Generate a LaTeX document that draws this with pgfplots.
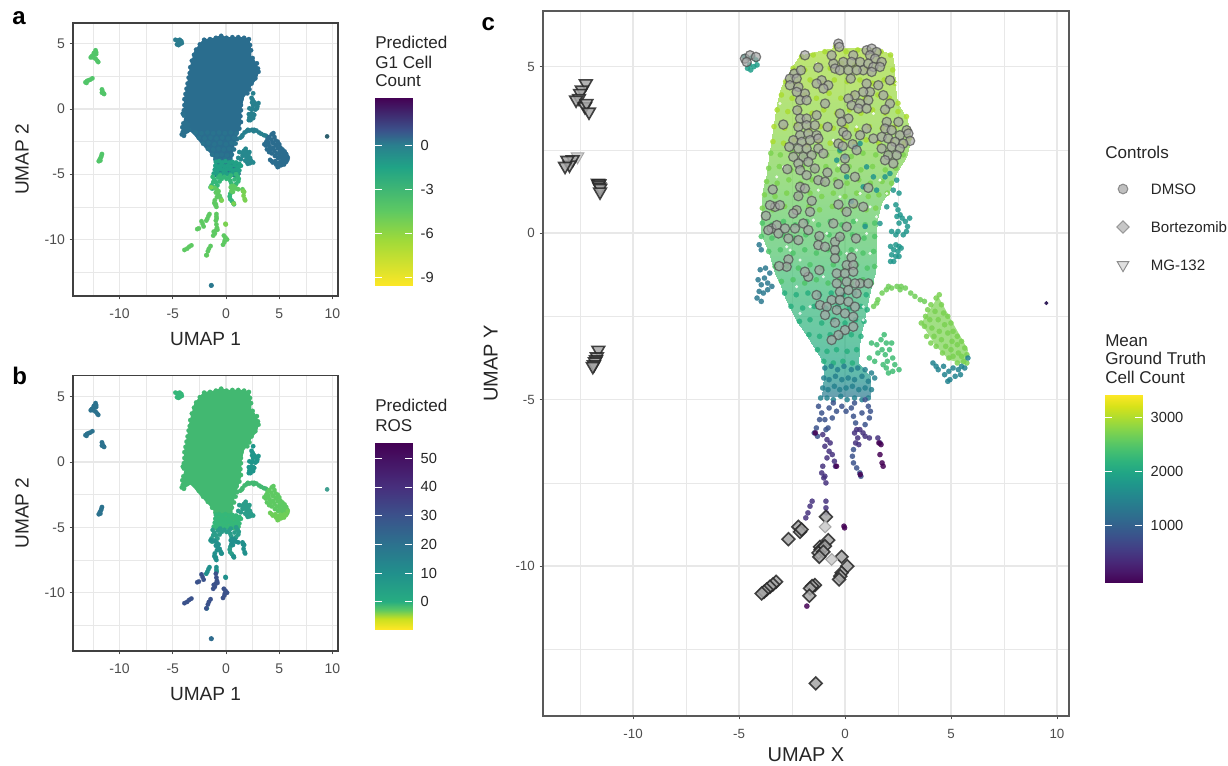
\documentclass[border=0pt]{standalone}
\usepackage{pgfplots}
\usepackage{pgfplotstable}
\usepackage{fontspec}
\setmainfont{Liberation Sans}
\pgfplotsset{compat=1.18}
\newcommand\fs[1]{\fontsize{#1}{#1}\selectfont}
\definecolor{tickc}{HTML}{4D4D4D}
\definecolor{gridc}{HTML}{E8E8E8}
\pgfplotstableread[row sep=\\]{x y\\
-2.05 5.3\\-1.5 5.35\\-0.95 5.45\\-0.45 5.6\\0.05 5.45\\0.6 5.5\\1.15 5.5\\1.7 5.45\\2.15 5.35\\
-2.45 4.95\\-1.9 4.9\\-1.3 5.05\\-0.7 4.95\\-0.15 5.1\\0.45 5.05\\1.0 4.95\\1.6 5.1\\2.25 4.9\\
-2.8 4.55\\-2.25 4.5\\-1.65 4.6\\-1.05 4.5\\-0.5 4.6\\0.1 4.55\\0.7 4.6\\1.3 4.5\\1.85 4.6\\2.35 4.5\\
-3.0 4.15\\-2.5 4.05\\-1.9 4.15\\-1.35 4.05\\-0.75 4.2\\-0.2 4.05\\0.4 4.15\\0.95 4.05\\1.55 4.15\\2.1 4.05\\2.5 3.9\\
-3.2 3.7\\-2.7 3.65\\-2.15 3.7\\-1.55 3.6\\-1.0 3.7\\-0.4 3.6\\0.2 3.7\\0.75 3.6\\1.3 3.7\\1.9 3.6\\2.5 3.65\\2.9 3.5\\
-3.35 3.2\\-2.85 3.15\\-2.3 3.25\\-1.7 3.1\\-1.15 3.2\\-0.55 3.15\\0.05 3.2\\0.55 3.1\\1.15 3.2\\1.75 3.15\\2.35 3.2\\3.0 3.1\\
-3.4 2.75\\-2.9 2.7\\-2.4 2.8\\-1.8 2.65\\-1.25 2.75\\-0.7 2.7\\-0.1 2.8\\0.45 2.7\\1.0 2.8\\1.6 2.7\\2.2 2.75\\2.8 2.7\\3.05 2.85\\
}\Rone
\pgfplotstableread[row sep=\\]{x y\\
-3.5 2.4\\-3.05 2.35\\-2.5 2.45\\-1.95 2.3\\-1.4 2.4\\-0.85 2.35\\-0.25 2.45\\0.3 2.3\\0.85 2.4\\1.45 2.35\\2.05 2.4\\2.75 2.35\\
-3.6 1.95\\-3.1 2.0\\-2.55 1.9\\-2.0 2.0\\-1.45 1.9\\-0.9 2.0\\-0.35 1.9\\0.2 2.0\\0.75 1.9\\1.3 2.0\\1.9 1.9\\2.4 1.95\\
-3.7 1.55\\-3.2 1.5\\-2.65 1.6\\-2.1 1.5\\-1.55 1.6\\-1.0 1.5\\-0.45 1.6\\0.1 1.5\\0.65 1.6\\1.2 1.5\\1.75 1.55\\2.2 1.5\\
-3.8 1.15\\-3.3 1.1\\-2.75 1.2\\-2.2 1.1\\-1.65 1.2\\-1.1 1.1\\-0.55 1.2\\0 1.1\\0.55 1.2\\1.1 1.1\\1.6 1.15\\2.0 1.2\\
-3.9 0.75\\-3.4 0.7\\-2.85 0.8\\-2.3 0.7\\-1.7 0.8\\-1.2 0.7\\-0.6 0.8\\-0.1 0.7\\0.45 0.8\\1.0 0.7\\1.45 0.75\\
}\Rtwo
\pgfplotstableread[row sep=\\]{x y\\
-3.9 0.3\\-3.45 0.25\\-2.9 0.35\\-2.35 0.25\\-1.8 0.35\\-1.25 0.25\\-0.7 0.35\\-0.15 0.25\\0.4 0.35\\0.95 0.25\\1.4 0.3\\
-3.95 -0.1\\-3.45 -0.15\\-2.95 -0.05\\-2.4 -0.15\\-1.85 -0.05\\-1.3 -0.15\\-0.75 -0.05\\-0.2 -0.15\\0.35 -0.05\\0.9 -0.15\\1.4 -0.1\\
-3.6 -0.55\\-3.05 -0.5\\-2.45 -0.6\\-1.9 -0.5\\-1.35 -0.6\\-0.8 -0.5\\-0.25 -0.6\\0.3 -0.5\\0.85 -0.6\\1.35 -0.55\\
-3.3 -1.0\\-2.75 -1.0\\-2.2 -1.05\\-1.65 -0.95\\-1.1 -1.05\\-0.55 -0.95\\0 -1.05\\0.55 -0.95\\1.05 -1.05\\1.4 -1.0\\
-3.0 -1.45\\-2.45 -1.4\\-1.9 -1.5\\-1.35 -1.4\\-0.8 -1.5\\-0.25 -1.4\\0.3 -1.5\\0.85 -1.4\\1.25 -1.5\\
}\Rthree
\pgfplotstableread[row sep=\\]{x y\\
-2.85 -1.8\\-2.3 -1.85\\-1.75 -1.8\\-1.2 -1.85\\-0.65 -1.8\\-0.1 -1.85\\0.45 -1.8\\1.0 -1.85\\
-2.55 -2.2\\-2.0 -2.25\\-1.45 -2.2\\-0.9 -2.25\\-0.35 -2.2\\0.2 -2.25\\0.75 -2.2\\1.05 -2.3\\
-2.15 -2.65\\-1.65 -2.6\\-1.1 -2.7\\-0.55 -2.6\\0 -2.7\\0.5 -2.6\\0.9 -2.65\\
-1.7 -3.05\\-1.2 -3.1\\-0.7 -3.05\\-0.2 -3.1\\0.3 -3.05\\0.75 -3.1\\
-1.3 -3.5\\-0.85 -3.55\\-0.4 -3.5\\0.1 -3.55\\0.55 -3.5\\
-1.0 -3.85\\-0.55 -3.9\\-0.1 -3.85\\0.35 -3.9\\
}\Rfour
\pgfplotstableread[row sep=\\]{x y\\
-4.15 -1.95\\-4.05 -1.75\\-3.95 -1.55\\-3.85 -1.8\\-3.95 -2.05\\-4.1 -1.4\\-3.8 -1.35\\-3.65 -1.5\\-3.55 -1.2\\-3.75 -1.05\\-4.0 -1.1\\-3.95 -0.5\\-4.05 -0.35\\-3.65 -1.7\\-3.45 -1.6\\
}\Rfive
\pgfplotstableread[row sep=\\]{x y\\
2.4 0.85\\2.5 0.7\\2.6 0.55\\2.45 0.5\\2.7 0.45\\2.85 0.35\\2.55 0.3\\3.05 0.45\\2.95 0.2\\2.9 0.05\\2.75 -0.05\\2.5 0.05\\2.2 0.05\\2.4 -0.05\\
2.4 -0.35\\2.55 -0.4\\2.3 -0.5\\2.5 -0.55\\2.65 -0.45\\2.2 -0.65\\2.4 -0.7\\2.55 -0.7\\2.15 -0.85\\2.3 -0.85\\2.15 -0.4\\2.55 1.2\\
}\Rsix
\pgfplotstableread[row sep=\\]{x y\\
1.35 -2.2\\1.55 -2.0\\1.75 -1.8\\1.95 -1.7\\2.2 -1.65\\2.45 -1.6\\2.65 -1.6\\2.85 -1.65\\3.1 -1.8\\3.3 -1.9\\3.55 -2.0\\3.75 -2.05\\1.5 -2.1\\2.05 -1.6\\2.6 -1.7\\
}\Rseven
\pgfplotstableread[row sep=\\]{x y\\
3.6 -2.7\\3.8 -2.5\\3.9 -2.3\\4.05 -2.15\\4.3 -1.95\\4.45 -1.85\\4.55 -2.15\\4.25 -2.35\\4.0 -2.6\\3.75 -2.8\\4.1 -2.85\\4.4 -2.6\\4.65 -2.4\\4.85 -2.5\\5.0 -2.7\\4.7 -2.75\\4.45 -2.95\\4.2 -3.1\\4.55 -3.2\\4.85 -3.0\\5.1 -2.95\\5.3 -3.1\\5.05 -3.25\\4.75 -3.4\\5.0 -3.5\\5.3 -3.35\\5.5 -3.25\\5.65 -3.45\\5.35 -3.6\\5.1 -3.7\\5.5 -3.7\\5.75 -3.65\\5.6 -3.85\\5.3 -3.9\\4.9 -3.75\\4.6 -3.6\\4.3 -3.4\\4.05 -3.3\\3.85 -3.1\\5.75 -3.9\\
}\Reight
\pgfplotstableread[row sep=\\]{x y\\
3.6 -2.7\\4.4 -1.9\\5.0 -2.6\\5.8 -3.5\\5.7 -3.95\\4.9 -3.8\\4.3 -3.4\\
}\Clust
\pgfplotstableread[row sep=\\]{x y\\
4.15 -3.9\\4.4 -4.1\\4.65 -4.0\\4.9 -4.15\\5.1 -4.05\\5.35 -4.1\\5.2 -4.3\\4.95 -4.4\\4.7 -4.25\\5.5 -4.0\\5.65 -4.05\\5.45 -4.25\\4.3 -4.0\\5.8 -3.75\\4.85 -4.45\\
}\Rnine
\pgfplotstableread[row sep=\\]{x y\\
1.25 -3.3\\1.5 -3.35\\1.7 -3.2\\1.85 -3.05\\1.95 -3.3\\2.1 -3.5\\1.75 -3.5\\1.55 -3.6\\1.9 -3.65\\2.2 -3.3\\2.25 -3.75\\2.0 -3.85\\1.8 -3.95\\2.35 -3.95\\2.55 -4.1\\2.25 -4.15\\2.05 -4.2\\1.95 -4.05\\1.4 -3.85\\1.15 -3.75\\
}\Rten
\pgfplotstableread[row sep=\\]{x y\\
-0.95 -4.05\\-0.65 -4.0\\-0.35 -4.1\\-0.05 -4.0\\0.3 -4.1\\0.6 -4.05\\0.95 -4.1\\1.25 -4.2\\
-1.0 -4.35\\-0.75 -4.4\\-0.45 -4.3\\-0.15 -4.4\\0.15 -4.35\\0.45 -4.4\\0.8 -4.3\\1.1 -4.45\\1.4 -4.35\\
-1.05 -4.65\\-0.8 -4.7\\-0.5 -4.6\\-0.25 -4.7\\0.05 -4.65\\0.35 -4.6\\0.65 -4.7\\0.95 -4.65\\1.25 -4.7\\
-1.15 -4.95\\-0.85 -4.95\\-0.55 -5.0\\-0.2 -4.9\\0.1 -5.0\\0.45 -4.95\\0.8 -5.0\\1.1 -4.95\\
}\Releven
\pgfplotstableread[row sep=\\]{x y\\
-1.25 -5.2\\-1.1 -5.4\\-1.2 -5.6\\-1.35 -5.85\\-1.45 -6.0\\-1.3 -6.1\\-0.95 -5.6\\-0.75 -5.25\\-0.55 -5.1\\-0.4 -5.35\\-0.15 -5.2\\0.05 -5.35\\0.3 -5.25\\0.4 -5.5\\0.5 -5.7\\0.45 -5.1\\0.95 -5.0\\1.1 -5.2\\1.2 -5.35\\1.15 -5.55\\0.95 -5.75\\0.8 -5.4\\-0.8 -5.85\\-0.6 -5.55\\-0.9 -5.9\\0.35 -6.7\\0.4 -6.9\\0.55 -7.05\\0.7 -7.2\\0.75 -7.3\\0.4 -6.5\\
}\Rtwelve
\pgfplotstableread[row sep=\\]{x y\\
-1.05 -6.05\\-0.85 -6.2\\-0.7 -6.3\\-0.95 -6.4\\-0.75 -6.55\\-0.6 -6.65\\-0.5 -6.85\\-0.45 -7.0\\-0.85 -6.75\\0.45 -6.0\\0.55 -5.9\\0.6 -6.15\\0.65 -6.35\\0.5 -6.3\\0.7 -5.9\\0.85 -6.0\\0.95 -6.1\\1.15 -6.15\\1.55 -6.15\\1.65 -6.3\\-1.05 -7.0\\-1.1 -7.2\\-0.95 -7.3\\-0.9 -7.5\\-1.0 -7.35\\-1.55 -8.05\\-1.65 -8.2\\-1.75 -8.4\\-1.85 -8.55\\-0.9 -8.05\\-0.9 -8.25\\-0.88 -8.4\\
}\Rthirteen
\pgfplotstableread[row sep=\\]{x y\\
1.6 -6.3\\1.7 -6.35\\1.65 -6.65\\1.75 -6.9\\1.8 -7.0\\0.72 -7.25\\-0.02 -8.85\\-0.05 -8.8\\-1.8 -11.2\\-0.4 -7.0\\-1.4 -6.0\\
}\Rfourteen
\pgfplotstableread[row sep=\\]{x y\\
-4.75 5.3\\-4.55 5.25\\-4.35 5.3\\-4.2 5.2\\-4.5 5.05\\-4.3 5.0\\-4.6 4.95\\-4.15 5.05\\-4.45 4.9\\
}\Rfifteen
\pgfplotstableread[row sep=\\]{x y\\
-12.25 4.5\\-12.2 4.35\\-12.4 4.3\\-12.45 4.15\\-12.6 4.05\\-12.7 3.95\\-12.45 3.95\\-12.25 3.85\\-12.1 3.7\\-12.0 3.6\\-12.2 4.2\\
-12.55 2.35\\-12.75 2.25\\-12.9 2.2\\-13.05 2.15\\-13.2 2.05\\-13.1 2.0\\
-11.65 1.5\\-11.6 1.35\\-11.5 1.2\\-11.65 1.25\\-11.45 1.15\\
-11.65 -3.45\\-11.7 -3.6\\-11.75 -3.7\\-11.85 -3.85\\-11.95 -4.0\\-11.8 -3.95\\
}\Rsixteen
\pgfplotstableread[row sep=\\]{x y\\
-2.2 -8.8\\-2.1 -9.0\\-2.3 -8.6\\-2.7 -9.2\\-2.55 -9.15\\-0.95 -8.55\\-0.9 -8.85\\-0.85 -9.1\\-0.8 -9.25\\-1.15 -9.4\\-1.05 -9.55\\-1.2 -9.7\\-0.95 -9.3\\-0.2 -9.7\\-0.05 -9.85\\0.1 -10.0\\-0.15 -10.2\\-0.28 -10.4\\-0.1 -10.05\\-3.25 -10.45\\-3.45 -10.55\\-3.65 -10.7\\-3.9 -10.8\\-1.45 -10.5\\-1.6 -10.7\\-1.7 -10.9\\-1.85 -11.2\\
}\Rseventeen
\pgfplotstableread[row sep=\\]{x y\\
0 2.29\\0.47 2.59\\0.08 1.69\\1.34 1.69\\1.89 1.69\\2.28 1.29\\2.44 1.59\\1.02 1.99\\0.86 1.39\\1.49 1.29\\1.97 0.79\\1.65 0.29\\-0.39 2.19\\0.71 2.69\\-0.24 2.49\\2.12 1.79\\0.3 0.95\\0.95 0.2\\
}\Speckt
\pgfplotstableread[row sep=\\]{x y\\
-0.31 2.04\\-1.26 1.29\\0.55 3.19\\-2.75 -0.41\\-2.59 -0.51\\-1.02 -1.31\\0.71 1.19\\1.02 -0.01\\1.18 -0.61\\-1.49 0.39\\-0.86 -0.01\\-2.12 -0.81\\0.08 -0.61\\0.55 -0.51\\-0.24 1.09\\1.65 1.59\\1.97 1.19\\1.49 0.49\\-2.28 -1.61\\-1.65 -2.21\\-2.12 -2.41\\0.86 -2.61\\0.86 -2.21\\-2.9 1.99\\-3.22 1.69\\-0.55 2.79\\1.34 3.59\\-1.34 5.09\\2.44 4.49\\-3.07 3.89\\0.55 0.39\\1.18 0.79\\
}\Speckw
\pgfplotstableread[row sep=\\]{x y\\
-2.1 5.35\\-1.2 5.45\\-0.5 5.65\\0.2 5.5\\1.2 5.55\\2.2 5.4\\2.35 4.7\\2.4 4.0\\2.9 3.5\\3.1 2.9\\2.9 2.3\\2.4 1.8\\2.1 1.3\\1.7 0.9\\1.45 0.0\\1.4 -1.2\\1.1 -2.0\\0.7 -3.1\\0.6 -3.9\\1.2 -4.3\\1.4 -5.0\\1.0 -5.3\\0.2 -5.1\\-0.5 -5.2\\-1.1 -5.2\\-1.1 -4.6\\-1.0 -3.9\\-1.6 -3.3\\-2.4 -2.6\\-3.0 -2.0\\-3.5 -1.6\\-4.1 -1.9\\-4.1 -1.3\\-3.9 -0.6\\-4.0 0.0\\-3.9 1.0\\-3.6 2.2\\-3.4 3.2\\-3.0 4.4\\-2.5 5.0\\
}\Outline
\pgfplotstableread[row sep=\\]{x y m\\
-0.6 5.55 2950\\1.5 5.55 2950\\
-2.1 5.35 2950\\2.2 5.35 2950\\
-2.5 5.0 2900\\2.3 5.0 2900\\
-3.0 4.4 2900\\2.35 4.4 2900\\
-3.2 3.9 2850\\2.45 3.9 2850\\
-3.3 3.5 2850\\2.9 3.5 2850\\
-3.45 2.9 2800\\3.1 2.9 2800\\
-3.6 2.3 2750\\2.9 2.3 2750\\
-3.7 1.8 2700\\2.4 1.8 2700\\
-3.85 1.3 2650\\2.1 1.3 2650\\
-3.9 0.9 2600\\1.7 0.9 2600\\
-3.95 0.4 2550\\1.5 0.4 2550\\
-3.95 0.0 2500\\1.45 0.0 2500\\
-3.6 -0.6 2450\\1.45 -0.6 2450\\
-3.3 -1.2 2350\\1.4 -1.2 2350\\
-3.0 -1.6 2300\\1.25 -1.6 2300\\
-2.8 -2.0 2250\\1.1 -2.0 2250\\
-2.3 -2.6 2200\\0.9 -2.6 2200\\
-1.8 -3.1 2150\\0.7 -3.1 2150\\
-1.0 -3.9 2000\\0.6 -3.9 2000\\
-1.0 -4.3 1800\\1.2 -4.3 1800\\
-1.1 -4.9 1300\\1.2 -4.9 1300\\
}\Blob
\pgfplotstableread[row sep=\\]{x y\\
-4.72 5.24\\-4.48 5.34\\-4.2 5.29\\-4.64 5.14\\-0.31 5.69\\-0.27 5.59\\-1.89 5.34\\
-2.39 4.79\\-2.6 4.64\\-2.28 4.64\\-2.08 4.89\\-2.6 4.44\\-2.2 4.39\\-1.89 4.19\\-2.28 4.24\\-2.12 3.99\\-1.81 3.99\\-1.26 4.97\\-1.1 4.59\\-1.34 4.49\\-0.79 4.44\\-1.02 4.34\\-0.94 3.89\\-2.25 3.69\\
-0.55 5.09\\-0.47 4.94\\-0.63 5.34\\-0.08 5.14\\0.39 5.34\\0.31 5.14\\-0.24 4.89\\0.16 4.89\\0.71 5.14\\0.86 4.89\\0.55 4.89\\1.02 5.49\\1.26 5.54\\1.49 5.44\\1.18 5.34\\1.42 5.24\\1.73 5.14\\1.1 5.09\\1.34 4.99\\1.26 4.84\\1.65 4.99\\2.12 4.59\\0.27 4.64\\1.02 4.49\\1.57 4.44\\1.18 4.24\\0.86 4.24\\1.81 4.14\\0.47 4.14\\0.16 4.04\\1.1 3.99\\0.71 3.89\\0.31 3.84\\0.63 3.74\\2.12 3.89\\1.89 3.71\\1.02 3.74\\-0.24 3.59\\0.16 3.44\\-0.16 3.34\\
-2.12 3.44\\-1.34 3.54\\-1.81 3.44\\-2.91 3.26\\-2.2 3.19\\-1.81 3.24\\-1.42 3.24\\-0.82 3.19\\-2.12 2.94\\-1.73 2.99\\-1.34 2.94\\-2.44 2.79\\-2.04 2.74\\-1.65 2.79\\-1.26 2.84\\-2.63 2.59\\-2.2 2.54\\-1.81 2.54\\-1.26 2.54\\-1.97 2.29\\-1.57 2.34\\-2.44 2.29\\-1.02 2.39\\-2.2 2.09\\-1.73 2.14\\-1.42 1.94\\-2.72 1.92\\-2.12 1.89\\-1.81 1.74\\-0.83 1.82\\-1.26 1.59\\-0.94 1.54\\
-0.08 3.04\\0.08 2.94\\1.02 3.14\\0.71 2.94\\-0.31 2.69\\-0.11 2.61\\0.36 2.67\\0 2.24\\0.55 2.49\\0 1.94\\0.47 1.69\\-0.31 1.47\\1.1 1.36\\
2.52 3.34\\1.97 3.34\\1.89 3.14\\2.2 3.09\\2.91 3.09\\2.59 2.94\\2.99 2.99\\1.34 2.84\\1.73 2.89\\2.04 2.84\\2.36 2.74\\3.07 2.77\\2.75 2.69\\1.73 2.54\\2.2 2.59\\2.59 2.54\\2.04 2.34\\2.44 2.34\\1.89 2.19\\2.28 2.09\\
-3.41 1.31\\-2.12 1.39\\-1.89 1.34\\-2.2 1.11\\-1.57 0.97\\-3.3 0.79\\-3.07 0.84\\-3.54 0.84\\-2.28 0.69\\-1.65 0.64\\-3.73 0.52\\-2.44 0.59\\-3.46 0.14\\-3.22 0.24\\-3.62 0.09\\-3.14 -0.01\\-2.83 0.14\\-2.36 0.14\\-1.97 0.29\\-2.67 -0.16\\-2.2 -0.21\\-1.73 0.09\\
-0.31 0.86\\0.08 0.64\\0.39 0.89\\0.86 0.79\\-0.55 0.29\\0.08 0.19\\-1.21 -0.09\\0.52 -0.16\\-0.47 -0.26\\-0.24 -0.11\\-1.26 -0.36\\-0.94 -0.41\\-0.47 -0.51\\-0.47 -0.76\\0.31 -0.73\\-2.67 -0.79\\-2.75 -1.01\\-3.11 -0.99\\-1.73 -1.31\\-1.89 -1.16\\-1.21 -1.11\\
0.08 -0.96\\0.39 -0.96\\-0.39 -1.21\\0 -1.21\\0.39 -1.16\\0.71 -1.51\\1.1 -1.51\\-0.39 -1.51\\0.08 -1.46\\0.47 -1.51\\-0.24 -1.76\\0.16 -1.71\\0.55 -1.81\\-1.34 -1.86\\-0.63 -2.01\\-0.24 -2.01\\0.16 -2.06\\0.47 -2.21\\-1.18 -2.16\\-0.86 -2.21\\-0.94 -2.46\\-0.39 -2.31\\0 -2.41\\0.39 -2.51\\-0.47 -2.69\\0 -2.91\\0.39 -2.81\\-0.31 -3.06\\-0.63 -3.21\\
}\Dmso
\pgfplotstableread[row sep=\\]{x y\\
-2.2 -8.82\\-2.12 -8.97\\-2.05 -8.9\\-2.67 -9.19\\-0.9 -8.52\\-0.79 -9.22\\-1.18 -9.42\\-1.15 -9.5\\-1.25 -9.6\\-0.95 -9.4\\-1.02 -9.57\\-1.21 -9.72\\-0.16 -9.72\\0.11 -10.0\\-0.16 -10.2\\-0.22 -10.3\\-0.28 -10.4\\-3.25 -10.47\\-3.4 -10.55\\-3.54 -10.62\\-3.7 -10.7\\-3.82 -10.77\\-3.93 -10.82\\-1.42 -10.57\\-1.55 -10.6\\-1.65 -10.67\\-1.68 -10.89\\-1.38 -13.52\\
}\Bort
\pgfplotstableread[row sep=\\]{x y\\
-12.23 4.49\\-12.42 4.3\\-12.5 4.2\\-12.55 4.05\\-12.69 4.0\\-12.27 3.8\\-12.2 3.9\\-12.08 3.64\\-12.85 2.21\\-13.0 2.05\\-13.1 2.19\\-13.21 2.01\\-11.66 1.5\\-11.59 1.49\\-11.62 1.45\\-11.59 1.39\\-11.55 1.35\\-11.56 1.24\\-11.64 -3.51\\-11.71 -3.71\\-11.75 -3.8\\-11.8 -3.86\\-11.85 -3.95\\-11.9 -4.0\\
}\Mg
\newcommand\R[2]{\addplot[only marks,mark=*,mark size=\ms,mark options={draw={#2},fill={#2},line width=0.1pt,opacity=\op}] table {#1};}
\def\ms{1.7pt}\def\op{1}
\pgfplotsset{
 panel/.style={scale only axis,anchor=north west,clip=true,
  axis line style={draw=black!75!white,line width=0.8pt},
  tick style={draw=black!70,line width=0.6pt},tick align=outside,major tick length=2.6pt,
  xtick={-10,-5,0,5,10},xticklabels={-10,-5,0,5,10},
  ytick={-10,-5,0,5},yticklabels={-10,-5,0,5},
  minor xtick={-12.5,-7.5,-2.5,2.5,7.5},minor ytick={-12.5,-7.5,-2.5,2.5},
  xtick pos=bottom,ytick pos=left,
  minor tick length=0pt,
  grid=both,major grid style={draw=gridc,line width=1pt},minor grid style={draw=gridc,line width=0.5pt},
  ticklabel style={text=tickc,font=\fs{10.5}},
  xticklabel style={yshift=-3.5pt},
  xlabel style={font=\fs{14.3},text=black!85,yshift=-3pt},ylabel style={font=\fs{14.3},text=black!85,yshift=5pt},
 },
 bar/.style={scale only axis,anchor=north west,width=27.75pt,clip=true,
  axis line style={draw=none},xmin=0,xmax=1,xtick=\empty,axis on top,
  ytick align=inside,ytick pos=both,yticklabel pos=right,major tick length=5.6pt,
  tick style={draw=white,line width=0.5pt},
  yticklabel style={font=\fs{11},text=black!85,xshift=3pt},
 },
}
\begin{document}
\begin{tikzpicture}
\useasboundingbox (0,0) rectangle (921pt,573.75pt);
% ---------- panel a
\begin{axis}[panel,at={(54.75pt,556.5pt)},width=198.75pt,height=204.75pt,
 xmin=-14.37,xmax=10.52,ymin=-14.33,ymax=6.59,xlabel={UMAP 1},ylabel={UMAP 2}]
\addplot[fill={rgb,255:red,42;green,109;blue,142},draw=none] table {\Outline} -- cycle;
\R{\Rone}{rgb,255:red,42;green,109;blue,142}
\R{\Rtwo}{rgb,255:red,42;green,109;blue,142}
\R{\Rthree}{rgb,255:red,42;green,109;blue,142}
\R{\Rfour}{rgb,255:red,41;green,115;blue,142}
\R{\Rfive}{rgb,255:red,42;green,112;blue,142}
\R{\Rsix}{rgb,255:red,39;green,128;blue,142}
\R{\Rseven}{rgb,255:red,39;green,127;blue,142}
\R{\Reight}{rgb,255:red,43;green,108;blue,142}
\R{\Rnine}{rgb,255:red,43;green,108;blue,142}
\R{\Rten}{rgb,255:red,38;green,136;blue,142}
\R{\Releven}{rgb,255:red,33;green,160;blue,133}
\R{\Rtwelve}{rgb,255:red,53;green,183;blue,121}
\R{\Rthirteen}{rgb,255:red,94;green,201;blue,98}
\R{\Rfourteen}{rgb,255:red,122;green,209;blue,81}
\R{\Rfifteen}{rgb,255:red,42;green,123;blue,142}
\R{\Rsixteen}{rgb,255:red,82;green,197;blue,105}
\R{\Rseventeen}{rgb,255:red,94;green,201;blue,98}
\addplot[only marks,mark=*,mark size=1.7pt,mark options={draw={rgb,255:red,42;green,120;blue,142},fill={rgb,255:red,42;green,120;blue,142}}] coordinates {(-1.38,-13.52)};
\addplot[only marks,mark=*,mark size=1.5pt,mark options={draw={rgb,255:red,45;green,95;blue,110},fill={rgb,255:red,45;green,95;blue,110}}] coordinates {(9.5,-2.1)};
\end{axis}
% ---------- panel b
\begin{axis}[panel,at={(54.75pt,292.3pt)},width=198.75pt,height=206.8pt,
 xmin=-14.37,xmax=10.52,ymin=-14.46,ymax=6.63,xlabel={UMAP 1},ylabel={UMAP 2}]
\addplot[fill={rgb,255:red,66;green,184;blue,113},draw=none] table {\Outline} -- cycle;
\R{\Rone}{rgb,255:red,66;green,184;blue,113}
\R{\Rtwo}{rgb,255:red,66;green,184;blue,113}
\R{\Rthree}{rgb,255:red,66;green,184;blue,113}
\R{\Rfour}{rgb,255:red,66;green,184;blue,113}
\R{\Rfive}{rgb,255:red,66;green,184;blue,113}
\R{\Rsix}{rgb,255:red,31;green,150;blue,139}
\R{\Rseven}{rgb,255:red,66;green,184;blue,113}
\R{\Reight}{rgb,255:red,94;green,201;blue,98}
\R{\Rnine}{rgb,255:red,110;green,206;blue,88}
\R{\Rten}{rgb,255:red,42;green,157;blue,138}
\R{\Releven}{rgb,255:red,53;green,183;blue,121}
\R{\Rtwelve}{rgb,255:red,42;green,157;blue,138}
\R{\Rthirteen}{rgb,255:red,33;green,144;blue,140}
\R{\Rfourteen}{rgb,255:red,33;green,144;blue,140}
\R{\Rfifteen}{rgb,255:red,53;green,183;blue,121}
\R{\Rsixteen}{rgb,255:red,44;green,114;blue,142}
\R{\Rseventeen}{rgb,255:red,59;green,82;blue,139}
\addplot[only marks,mark=*,mark size=1.7pt,mark options={draw={rgb,255:red,47;green,108;blue,142},fill={rgb,255:red,47;green,108;blue,142}}] coordinates {(-1.38,-13.52)};
\addplot[only marks,mark=*,mark size=1.5pt,mark options={draw={rgb,255:red,63;green,159;blue,144},fill={rgb,255:red,63;green,159;blue,144}}] coordinates {(9.5,-2.1)};
\end{axis}
% ---------- panel c
\def\op{0.85}\def\ms{2pt}
\begin{axis}[panel,at={(407.25pt,565.5pt)},width=394.5pt,height=528.75pt,
 xmin=-14.25,xmax=10.57,ymin=-14.5,ymax=6.67,xlabel={UMAP X},ylabel={UMAP Y},
 axis line style={draw=black!65,line width=1.1pt},
 xlabel style={font=\fs{15},yshift=2.5pt},ylabel style={font=\fs{15},yshift=1.5pt},
 ticklabel style={font=\fs{10}}]
\addplot[surf,shader=interp,mesh/cols=2,colormap/viridis,point meta min=-68,point meta max=3413,point meta=\thisrow{m},opacity=0.7] table[x=x,y=y] {\Blob};
\addplot[fill={rgb,255:red,122;green,209;blue,81},draw=none,opacity=0.7] table {\Clust} -- cycle;
\R{\Rone}{rgb,255:red,170;green,220;blue,50}
\R{\Rtwo}{rgb,255:red,125;green,211;blue,80}
\R{\Rthree}{rgb,255:red,80;green,196;blue,106}
\R{\Rfour}{rgb,255:red,42;green,176;blue,127}
\R{\Rfive}{rgb,255:red,42;green,120;blue,142}
\R{\Rsix}{rgb,255:red,31;green,150;blue,139}
\R{\Rseven}{rgb,255:red,110;green,206;blue,88}
\R{\Reight}{rgb,255:red,122;green,209;blue,81}
\R{\Rnine}{rgb,255:red,33;green,130;blue,142}
\R{\Rten}{rgb,255:red,63;green,188;blue,115}
\R{\Releven}{rgb,255:red,38;green,130;blue,142}
\R{\Rtwelve}{rgb,255:red,59;green,82;blue,139}
\R{\Rthirteen}{rgb,255:red,70;green,50;blue,126}
\R{\Rfourteen}{rgb,255:red,68;green,1;blue,84}
\R{\Rfifteen}{rgb,255:red,31;green,158;blue,137}
\R{\Speckt}{rgb,255:red,34;green,150;blue,140}
\addplot[only marks,mark=*,mark size=1.1pt,mark options={draw=white,fill=white,line width=0.1pt,opacity=0.8}] table {\Speckw};
\addplot[only marks,mark=*,mark size=1.3pt,mark options={draw={rgb,255:red,50;green,30;blue,90},fill={rgb,255:red,50;green,30;blue,90}}] coordinates {(9.5,-2.1)};
\addplot[only marks,mark=*,mark size=3.5pt,mark options={draw=black!70,line width=0.9pt,fill=black!35,opacity=0.7}] table {\Dmso};
\addplot[only marks,mark=square*,mark size=3.4pt,mark options={rotate=45,draw=black!85,line width=1.2pt,fill=black!35,opacity=0.85}] table {\Bort};
\addplot[only marks,mark=square*,mark size=3.1pt,mark options={rotate=45,draw=black!35,line width=0.8pt,fill=black!18}] coordinates {(-0.94,-8.82) (-0.63,-9.8)};
\addplot[only marks,mark=triangle*,mark size=5.5pt,mark options={rotate=180,draw=black!35,line width=0.7pt,fill=black!18}] coordinates {(-12.62,2.3)};
\addplot[only marks,mark=triangle*,mark size=5.5pt,mark options={rotate=180,draw=black!85,line width=1.2pt,fill=black!35,opacity=0.85}] table {\Mg};
\end{axis}
% ---------- legend of controls
\begin{axis}[hide axis,clip=false,scale only axis,anchor=north west,at={(834.75pt,439.5pt)},width=15pt,height=72pt,xmin=0,xmax=20,ymin=0,ymax=96,
 nodes near coords align={anchor=west},
 nodes near coords style={font=\fs{11.3},text=black!85,inner sep=0pt,xshift=20.5pt,yshift=0pt}]
\addplot[only marks,mark=*,mark size=3.6pt,mark options={draw=black!45,line width=0.8pt,fill=black!25},nodes near coords={DMSO}] coordinates {(10,86)};
\addplot[only marks,mark=square*,mark size=3.3pt,mark options={rotate=45,draw=black!40,line width=0.8pt,fill=black!22},nodes near coords={Bortezomib}] coordinates {(10,48)};
\addplot[only marks,mark=triangle*,mark size=5pt,mark options={rotate=180,draw=black!45,line width=0.7pt,fill=black!12},nodes near coords={MG-132}] coordinates {(10,10)};
\end{axis}
% ---------- colour bars
\begin{axis}[bar,at={(281.25pt,500.25pt)},height=141pt,ymin=-9.6,ymax=3.2,ytick={-9,-6,-3,0},yticklabels={-9,-6,-3,0},
 colormap={cma}{rgb255(0pt)=(253,231,37) rgb255(31pt)=(160,218,57) rgb255(51pt)=(94,201,98) rgb255(81pt)=(32,163,134) rgb255(96pt)=(42,127,142) rgb255(106pt)=(59,82,139) rgb255(128pt)=(68,1,84)}]
\addplot[surf,shader=interp,mesh/cols=2,point meta=y] coordinates {(0,-9.6) (1,-9.6) (0,3.2) (1,3.2)};
\end{axis}
\begin{axis}[bar,at={(281.25pt,241.75pt)},height=140pt,ymin=-9.6,ymax=55.4,ytick={0,10,20,30,40,50},yticklabels={0,10,20,30,40,50},
 colormap={cmb}{rgb255(0pt)=(253,231,37) rgb255(36pt)=(200,224,32) rgb255(66pt)=(94,201,98) rgb255(96pt)=(39,173,129) rgb255(196pt)=(33,144,140) rgb255(296pt)=(44,114,142) rgb255(396pt)=(59,82,139) rgb255(496pt)=(71,47,125) rgb255(650pt)=(68,1,84)}]
\addplot[surf,shader=interp,mesh/cols=2,point meta=y] coordinates {(0,-9.6) (1,-9.6) (0,55.4) (1,55.4)};
\end{axis}
\begin{axis}[bar,at={(828.75pt,277.5pt)},height=140.8pt,ymin=-68,ymax=3413,ytick={1000,2000,3000},yticklabels={1000,2000,3000},colormap/viridis]
\addplot[surf,shader=interp,mesh/cols=2,point meta=y] coordinates {(0,-68) (1,-68) (0,3413) (1,3413)};
\end{axis}
% ---------- texts
\tikzset{t/.style={anchor=base west,inner sep=0pt,text=black!85,font=\fs{12.8}},p/.style={anchor=base west,inner sep=0pt,font=\bfseries\fs{18}}}
\node[p] at (9pt,555pt) {a};
\node[p] at (9pt,285.5pt) {b};
\node[p] at (361pt,551pt) {c};
\node[t] at (281.25pt,537pt) {Predicted};
\node[t] at (281.25pt,522.5pt) {G1 Cell};
\node[t] at (281.25pt,508.5pt) {Count};
\node[t] at (281.25pt,265pt) {Predicted};
\node[t] at (281.25pt,250.5pt) {ROS};
\node[t] at (828.75pt,454.5pt) {Controls};
\node[t] at (828.75pt,313.5pt) {Mean};
\node[t] at (828.75pt,300pt) {Ground Truth};
\node[t] at (828.75pt,285.75pt) {Cell Count};
\end{tikzpicture}
\end{document}
